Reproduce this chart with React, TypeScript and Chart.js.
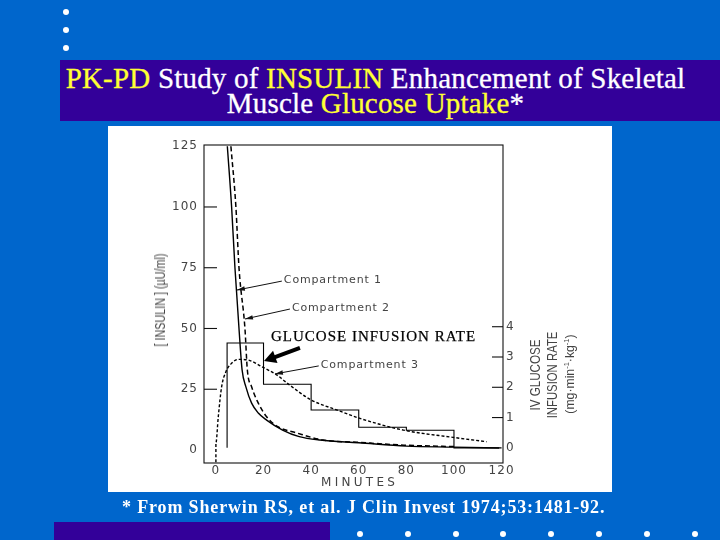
import React, { useEffect, useRef } from "react";
import { Chart, registerables } from "chart.js";

Chart.register(...registerables);

const compartment1Min = [4.8, 6.6, 8, 9.7, 11, 12.6, 15, 17.8, 21.3, 28, 35, 43.7, 60, 80, 100, 119];
const compartment1Val = [125, 100, 75, 50, 33, 26, 19.3, 15.2, 12.3, 8.2, 5.5, 4.1, 3, 1.6, 1.2, 0.8];
const compartment2Min = [6.3, 8.4, 9.7, 12.2, 13.2, 15, 17.8, 21.3, 26, 34, 45, 59, 79, 100];
const compartment2Val = [125, 100, 75, 50, 33, 26, 19.3, 13.7, 9.6, 7, 4.1, 3.2, 2, 1.4];
const compartment3Min = [0, 0, 1, 2.4, 4.2, 6.6, 9.4, 13.6, 19.2, 25.5, 31, 40, 50.7, 60.5, 78.7, 99.6, 113.7];
const compartment3Val = [-5, 2.9, 13.7, 26, 32.2, 35.7, 37.3, 37, 34.3, 30.9, 26.7, 20.6, 16.5, 13, 8.2, 5.2, 3.4];
const infusionMin = [4.7, 4.7, 20, 40, 60, 80, 100, 120];
const infusionRate = [0, 3.46, 2.1, 1.25, 0.68, 0.58, 0, 0];

const xTickValues = [0, 20, 40, 60, 80, 100, 120];
const yTickValues = [0, 25, 50, 75, 100, 125];
const y2TickValues = [0, 1, 2, 3, 4];

const leaderLabels = ["Compartment 1", "Compartment 2", "Compartment 3"];
const leaderFromMin = [27.7, 31.1, 43.2];
const leaderFromVal = [69.5, 58, 34.6];
const leaderToMin = [8.8, 12.2, 24.8];
const leaderToVal = [65.8, 53.9, 31.3];

const bulletsLeft = [12, 30, 48];
const bulletsBottom = [360, 408, 456, 503, 551, 599, 647, 695];

const ink = "#111";
const gray = "#444";

function head(ctx: CanvasRenderingContext2D, fx: number, fy: number, tx: number, ty: number, len: number, wid: number) {
  const a = Math.atan2(ty - fy, tx - fx);
  ctx.beginPath();
  ctx.moveTo(tx, ty);
  ctx.lineTo(tx - len * Math.cos(a) + wid * Math.sin(a), ty - len * Math.sin(a) - wid * Math.cos(a));
  ctx.lineTo(tx - len * Math.cos(a) - wid * Math.sin(a), ty - len * Math.sin(a) + wid * Math.cos(a));
  ctx.closePath();
  ctx.fill();
}

const framePlugin = {
  id: "frame",
  beforeDraw(chart: any) {
    (chart.ctx as any).letterSpacing = "1px";
  },
  afterDatasetsDraw(chart: any) {
    const { ctx, chartArea: a, scales } = chart;
    ctx.save();
    ctx.strokeStyle = ink;
    ctx.fillStyle = ink;
    ctx.lineWidth = 1.1;
    ctx.strokeRect(a.left, a.top, a.right - a.left, a.bottom - a.top);
    yTickValues.slice(1, -1).forEach((v) => {
      const p = scales.y.getPixelForValue(v);
      ctx.beginPath();
      ctx.moveTo(a.left, p);
      ctx.lineTo(a.left + 13, p);
      ctx.stroke();
    });
    y2TickValues.slice(1).forEach((v) => {
      const p = scales.y2.getPixelForValue(v);
      ctx.beginPath();
      ctx.moveTo(a.right - 11, p);
      ctx.lineTo(a.right, p);
      ctx.stroke();
    });
    ctx.lineWidth = 1;
    ctx.font = "11px 'DejaVu Sans'";
    (ctx as any).letterSpacing = "0.85px";
    ctx.textBaseline = "middle";
    leaderLabels.forEach((t, i) => {
      const fx = scales.x.getPixelForValue(leaderFromMin[i]);
      const fy = scales.y.getPixelForValue(leaderFromVal[i]);
      const tx = scales.x.getPixelForValue(leaderToMin[i]);
      const ty = scales.y.getPixelForValue(leaderToVal[i]);
      ctx.strokeStyle = ink;
      ctx.beginPath();
      ctx.moveTo(fx, fy);
      ctx.lineTo(tx, ty);
      ctx.stroke();
      ctx.fillStyle = ink;
      head(ctx, fx, fy, tx, ty, 8, 2.2);
      ctx.fillStyle = gray;
      ctx.fillText(t, fx + 2, fy - 1);
    });
    (ctx as any).letterSpacing = "0px";
    const fx = scales.x.getPixelForValue(35.3);
    const fy = scales.y.getPixelForValue(42);
    const tx = scales.x.getPixelForValue(20.2);
    const ty = scales.y.getPixelForValue(36.6);
    ctx.strokeStyle = "#000";
    ctx.fillStyle = "#000";
    ctx.lineWidth = 4;
    ctx.beginPath();
    ctx.moveTo(fx, fy);
    ctx.lineTo(tx + (fx - tx) * 0.25, ty + (fy - ty) * 0.25);
    ctx.stroke();
    head(ctx, fx, fy, tx, ty, 12, 6.5);
    ctx.restore();
    ctx.letterSpacing = "1px";
  },
};

const pts = (xs: number[], ys: number[]) => xs.map((x, i) => ({ x, y: ys[i] }));

export default function App() {
  const ref = useRef<HTMLCanvasElement>(null);

  useEffect(() => {
    const chart = new Chart(ref.current as HTMLCanvasElement, {
      type: "line",
      data: {
        datasets: [
          {
            label: "Compartment 1",
            data: pts(compartment1Min, compartment1Val),
            borderColor: "#000",
            borderWidth: 1.4,
            pointRadius: 0,
            cubicInterpolationMode: "monotone",
            yAxisID: "y",
          },
          {
            label: "Compartment 2",
            data: pts(compartment2Min, compartment2Val),
            borderColor: "#000",
            borderWidth: 1.5,
            borderDash: [5, 3],
            pointRadius: 0,
            cubicInterpolationMode: "monotone",
            yAxisID: "y",
          },
          {
            label: "Compartment 3",
            data: pts(compartment3Min, compartment3Val),
            borderColor: "#000",
            borderWidth: 1.4,
            borderDash: [3, 2],
            pointRadius: 0,
            cubicInterpolationMode: "monotone",
            yAxisID: "y",
          },
          {
            label: "Glucose infusion rate",
            data: pts(infusionMin, infusionRate),
            borderColor: "#000",
            borderWidth: 1.1,
            pointRadius: 0,
            stepped: "before",
            yAxisID: "y2",
          },
        ],
      } as any,
      options: {
        animation: false,
        responsive: false,
        devicePixelRatio: 1,
        layout: { padding: { top: 19, left: 0, right: 0, bottom: 0 } },
        plugins: { legend: { display: false }, tooltip: { enabled: false } },
        scales: {
          x: {
            type: "linear",
            min: -5,
            max: 120.6,
            grid: { display: false, drawTicks: false, tickLength: 0 },
            border: { display: false },
            afterBuildTicks: (s: any) => {
              s.ticks = xTickValues.map((value) => ({ value }));
            },
            ticks: {
              autoSkip: false,
              maxRotation: 0,
              padding: 1,
              color: gray,
              font: { family: "'DejaVu Sans'", size: 12 },
            },
            afterFit: (s: any) => {
              s.height = 29;
            },
          },
          y: {
            type: "linear",
            position: "left",
            min: -5.35,
            max: 125.5,
            grid: { display: false, drawTicks: false, tickLength: 0 },
            border: { display: false },
            afterBuildTicks: (s: any) => {
              s.ticks = yTickValues.map((value) => ({ value }));
            },
            ticks: {
              padding: 6,
              color: gray,
              font: { family: "'DejaVu Sans'", size: 12 },
            },
            afterFit: (s: any) => {
              s.width = 96;
            },
          },
          y2: {
            type: "linear",
            position: "right",
            min: -0.5,
            max: 10,
            grid: { display: false, drawTicks: false, tickLength: 0 },
            border: { display: false },
            afterBuildTicks: (s: any) => {
              s.ticks = y2TickValues.map((value) => ({ value }));
            },
            ticks: {
              padding: 3,
              color: gray,
              font: { family: "'DejaVu Sans'", size: 12 },
            },
            afterFit: (s: any) => {
              s.width = 109;
            },
          },
        },
      } as any,
      plugins: [framePlugin],
    });
    return () => chart.destroy();
  }, []);

  const y = { color: "#ffff33" };
  const rotated = (cx: number, cy: number, text: React.ReactNode, size: number, squeeze: number) => (
    <div
      style={{
        position: "absolute",
        left: cx,
        top: cy,
        transform: `translate(-50%,-50%) rotate(-90deg) scaleX(${squeeze})`,
        whiteSpace: "nowrap",
        color: gray,
        fontFamily: "'Liberation Sans'",
        fontSize: size,
        lineHeight: 1,
      }}
    >
      {text}
    </div>
  );
  const dot = (x: number, top: number, key: string) => (
    <div
      key={key}
      style={{
        position: "absolute",
        left: x - 3,
        top: top - 3,
        width: 6,
        height: 6,
        borderRadius: 3,
        background: "#fff",
      }}
    />
  );

  return (
    <div style={{ position: "fixed", left: 0, top: 0, width: 720, height: 540, background: "#0066cc", overflow: "hidden" }}>
      {bulletsLeft.map((t, i) => dot(65.5, t, "l" + i))}
      <div style={{ position: "absolute", left: 60, top: 60, width: 660, height: 61, background: "#330099" }} />
      <div
        style={{
          position: "absolute",
          left: 0,
          top: 66,
          width: 751,
          textAlign: "center",
          color: "#fff",
          fontFamily: "'Liberation Serif'",
          fontSize: 29,
          letterSpacing: 0.2,
          lineHeight: "25px",
          whiteSpace: "nowrap",
          WebkitTextStroke: "0.3px",
        }}
      >
        <span style={y}>PK-PD</span> Study of <span style={y}>INSULIN</span> Enhancement of Skeletal
        <br />
        Muscle <span style={y}>Glucose Uptake</span>*
      </div>
      <div style={{ position: "absolute", left: 108, top: 126, width: 504, height: 366, background: "#fff" }}>
        <canvas ref={ref} width={504} height={366} style={{ display: "block", width: 504, height: 366, filter: "blur(0.35px)" }} />
      </div>
      <div
        style={{
          position: "absolute",
          left: 271,
          top: 328,
          whiteSpace: "nowrap",
          color: "#000",
          fontFamily: "'Liberation Serif'",
          fontSize: 15,
          letterSpacing: 1,
          lineHeight: "16px",
          WebkitTextStroke: "0.25px #000",
        }}
      >
        GLUCOSE INFUSION RATE
      </div>
      <div
        style={{
          position: "absolute",
          left: 321,
          top: 475,
          whiteSpace: "nowrap",
          color: gray,
          fontFamily: "'DejaVu Sans'",
          fontSize: 12,
          letterSpacing: 3.3,
          lineHeight: "14px",
        }}
      >
        MINUTES
      </div>
      {rotated(160, 300, "[ INSULIN ] (\u00b5U/ml)", 14, 0.77)}
      {rotated(535, 375, "IV GLUCOSE", 14, 0.83)}
      {rotated(552, 375, "INFUSION RATE", 14, 0.81)}
      {rotated(570, 374, <span>(mg·min<sup style={{ fontSize: 8 }}>-1</sup>·kg<sup style={{ fontSize: 8 }}>-1</sup>)</span>, 13, 0.94)}
      <div
        style={{
          position: "absolute",
          left: 122,
          top: 497,
          whiteSpace: "nowrap",
          color: "#fff",
          fontFamily: "'Liberation Serif'",
          fontWeight: 700,
          fontSize: 18,
          letterSpacing: 0.85,
          lineHeight: "20px",
        }}
      >
        * From Sherwin RS, et al. J Clin Invest 1974;53:1481-92.
      </div>
      <div style={{ position: "absolute", left: 54, top: 522, width: 276, height: 18, background: "#330099" }} />
      {bulletsBottom.map((x, i) => dot(x, 534, "b" + i))}
    </div>
  );
}
